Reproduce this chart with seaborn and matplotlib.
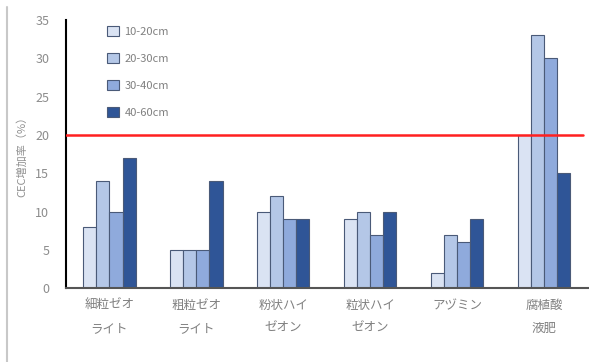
import matplotlib
matplotlib.use("Agg")
import matplotlib.pyplot as plt
import seaborn as sns
import pandas as pd
import numpy as np
from matplotlib.lines import Line2D

categories = ["細粒ゼオ\nライト", "粗粒ゼオ\nライト", "粉状ハイ\nゼオン", "粒状ハイ\nゼオン", "アヅミン", "腐植酸\n液肥"]
depths = ["10-20cm", "20-30cm", "30-40cm", "40-60cm"]
v_10_20 = [8, 5, 10, 9, 2, 20]
v_20_30 = [14, 5, 12, 10, 7, 33]
v_30_40 = [10, 5, 9, 7, 6, 30]
v_40_60 = [17, 14, 9, 10, 9, 15]
threshold = 20

rows = []
for d, vals in zip(depths, [v_10_20, v_20_30, v_30_40, v_40_60]):
    for c, v in zip(categories, vals):
        rows.append({"cat": c, "depth": d, "val": v})
df = pd.DataFrame(rows)

sns.set_style("white")
plt.rcParams['font.family'] = ['Noto Sans CJK JP', 'DejaVu Sans']

fig = plt.figure(figsize=(5.89, 3.62), dpi=100)
ax = fig.add_axes([0.112, 0.204, 0.886, 0.741])
palette = ["#dae3f3", "#b4c7e7", "#8faadc", "#2f5597"]
sns.barplot(data=df, x="cat", y="val", hue="depth", palette=palette, ax=ax,
            width=0.6, gap=0, edgecolor="#4a5a78", linewidth=0.8, saturation=1)

ax.axhline(threshold, color="#ff2020", lw=1.8, xmin=0, xmax=0.99, zorder=5)

ax.set_ylim(0, 35)
ax.set_xlim(-0.5, 5.5)
ax.set_yticks(np.arange(0, 36, 5))
ax.set_xlabel("")
ax.set_ylabel("CEC増加率（%）", color="#909090", fontsize=8, labelpad=6)
ax.tick_params(axis='y', direction='in', length=3, labelcolor="#8c8c8c", labelsize=9,
               width=1.2, color='black', pad=12)
ax.tick_params(axis='x', length=0, colors="#808080", labelsize=9, pad=8)
for lab in ax.get_xticklabels():
    lab.set_linespacing(2.0)
ax.set_xticks(np.arange(-0.5, 6.0, 1.0), minor=True)
ax.tick_params(axis='x', which='minor', direction='in', length=3, color='black')
for s in ["top", "right"]:
    ax.spines[s].set_visible(False)
ax.spines["left"].set_color("black")
ax.spines["left"].set_linewidth(1.5)
ax.spines["bottom"].set_color("#555555")
ax.spines["bottom"].set_linewidth(1.5)

leg = ax.legend(loc="upper left", bbox_to_anchor=(0.06, 1.016), frameon=False,
                fontsize=8, labelspacing=1.45, handlelength=1.05, handleheight=1.05,
                handletextpad=0.5, labelcolor="#808080")

fig.add_artist(Line2D([0.012, 0.012], [0.0, 0.98], transform=fig.transFigure,
                      color="#c8c8c8", lw=1.5))

fig.savefig("out.png", dpi=100)
